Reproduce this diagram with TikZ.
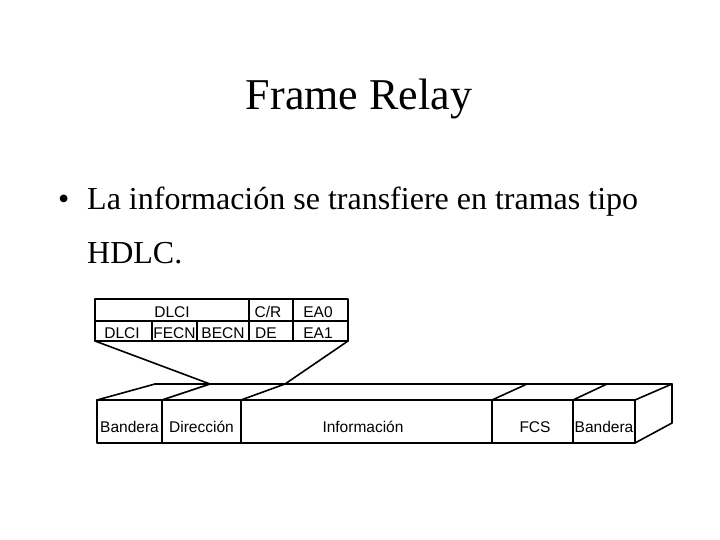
\documentclass[tikz,border=0pt]{standalone}
\usepackage{fontspec}
\setmainfont{Liberation Serif}
\newfontfamily\arialf{Liberation Sans}
\begin{document}
\begin{tikzpicture}[x=1pt,y=-1pt,
  frame/.style={line width=1.6pt,line cap=round,line join=round},
  lbl/.style={font=\arialf\fontsize{15.5}{16}\selectfont,inner sep=0pt,anchor=base},
  title/.style={font=\fontsize{44}{48}\selectfont,inner sep=0pt,anchor=base},
  body/.style={font=\fontsize{32}{36}\selectfont,inner sep=0pt,anchor=base west}]
\useasboundingbox (0,0) rectangle (720,540);
% title and bullet
\node[title] (ttl) at (359,110) {Frame Relay};
\node[body] (bul) at (58,210) {\textbullet};
\node[body] (l1) at (87,210) {La información se transfiere en tramas tipo};
\node[body] (l2) at (87,263) {HDLC.};
% address field table
\coordinate (tTL) at (95,299);
\coordinate (tBR) at (348,341);
\coordinate (tBL) at (95,341);
\draw[frame] (tTL) rectangle (tBR);
\draw[frame] (95,321) -- (348,321);
\draw[frame] (249,299) -- (249,341);
\draw[frame] (293,299) -- (293,341);
\draw[frame] (152,321) -- (152,341);
\draw[frame] (197,321) -- (197,341);
\node[lbl] (dlci1) at (172,317) {DLCI};
\node[lbl] (cr) at (268,317) {C/R};
\node[lbl] (ea0) at (318,317) {EA0};
\node[lbl] (dlci2) at (122,338) {DLCI};
\node[lbl] (fecn) at (174.5,338) {FECN};
\node[lbl] (becn) at (223,338) {BECN};
\node[lbl] (de) at (266,338) {DE};
\node[lbl] (ea1) at (318,338) {EA1};
% frame box
\coordinate (fTL) at (97,400);
\coordinate (fBR) at (635,443);
\coordinate (bL) at (155,384);
\coordinate (bR) at (672,384);
\coordinate (bRB) at (672,423);
\coordinate (dA) at (210,384);
\coordinate (dB) at (285,384);
\draw[frame] (fTL) rectangle (fBR);
\draw[frame] (bL) -- (bR) -- (bRB) -- (635,443);
\draw[frame] (fTL) -- (bL);
\draw[frame] (635,400) -- (bR);
\draw[frame] (162,400) -- (dA);
\draw[frame] (241,400) -- (dB);
\draw[frame] (492,400) -- (527,384);
\draw[frame] (573,400) -- (607,384);
\foreach \x in {162,241,492,573} \draw[frame] (\x,400) -- (\x,443);
% funnel
\draw[frame] (tBL) -- (dA);
\draw[frame] (tBR) -- (dB);
\node[lbl] (b1) at (129.5,432) {Bandera};
\node[lbl] (dir) at (201.5,432) {Dirección};
\node[lbl] (inf) at (363,432) {Información};
\node[lbl] (fcs) at (535,432) {FCS};
\node[lbl] (b2) at (604,432) {Bandera};
\end{tikzpicture}
\end{document}
